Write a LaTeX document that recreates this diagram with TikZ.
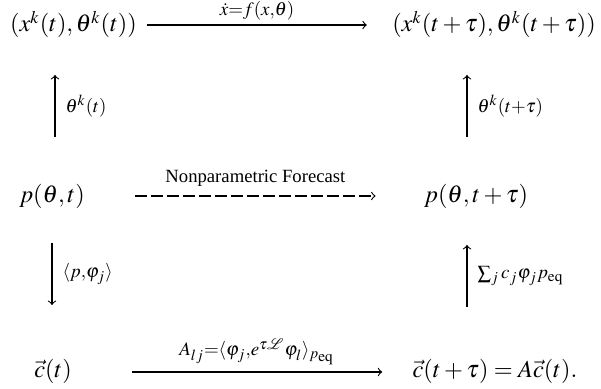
\documentclass[tikz,border=0pt]{standalone}
\usepackage{amsmath}
\usepackage{mathptmx}
\usepackage{fontspec}
\setmainfont{Liberation Serif}
\usetikzlibrary{calc}
\tikzset{
  obj/.style={inner sep=0pt, anchor=base, font=\fontsize{10.95}{13.6}\selectfont},
  lbl/.style={inner sep=0pt, font=\fontsize{11.5}{14}\selectfont},
  arr/.style={->, line width=0.5pt},
  darr/.style={->, line width=0.5pt, dash pattern=on 5.3pt off 1.9pt},
}
\begin{document}
\begin{tikzpicture}[x=0.45pt, y=-0.45pt]
\useasboundingbox (0,0) rectangle (601,389);
% objects
\node[obj] (xl) at (73.5,32) {$(x^k(t),\theta^k(t))$};
\node[obj] (xr) at (494,32) {$(x^k(t+\tau),\theta^k(t+\tau))$};
\node[obj] (pl) at (52,203) {$p(\theta,t)$};
\node[obj] (pr) at (476,203) {$p(\theta,t+\tau)$};
\node[obj] (cl) at (53,378) {$\vec{c}(t)$};
\node[obj] (cr) at (495,378) {$\vec{c}(t+\tau)=A\vec{c}(t).$};
% row coordinates
\coordinate (r1) at (0,25);
\coordinate (r2) at (0,196);
\coordinate (r3) at (0,372);
% horizontal arrows
\draw[arr] ($(xl.east |- r1)+(10,0)$) -- ($(xr.west |- r1)+(-25,0)$)
  node[lbl, midway, anchor=base, yshift=4.4pt] (l1) {$\scriptstyle \dot{x}=f(x,\theta)$};
\draw[darr] ($(pl.east |- r2)+(50,0)$) -- ($(pr.west |- r2)+(-48,0)$)
  node[lbl, midway, anchor=base, yshift=6pt, font=\fontsize{8.4}{10}\selectfont] (l2) {Nonparametric Forecast};
\draw[arr] ($(cl.east |- r3)+(60,0)$) -- ($(cr.west |- r3)+(-30,0)$)
  node[lbl, midway, anchor=base, yshift=7.2pt] (l3) {$\scriptstyle A_{lj}=\langle\varphi_j,e^{\tau\mathcal{L}}\varphi_l\rangle_{p_{\mathrm{eq}}}$};
% vertical arrows
\draw[arr] ($(pl.base)+(3,-66)$) -- ++(0,-62)
  node[lbl, midway, anchor=west, xshift=4.5pt] (l4) {$\scriptstyle \theta^k(t)$};
\draw[arr] ($(pr.base)+(-9,-66)$) -- ++(0,-62)
  node[lbl, midway, anchor=west, xshift=4.5pt] (l5) {$\scriptstyle \theta^k(t+\tau)$};
\draw[arr] ($(pl.base)+(0,40)$) -- ++(0,62)
  node[lbl, midway, anchor=west, xshift=4.5pt] (l6) {$\scriptstyle \langle p,\varphi_j\rangle$};
\draw[arr] ($(cr.base)+(-28,-71)$) -- ++(0,-62)
  node[lbl, midway, anchor=west, xshift=4.5pt] (l7) {$\scriptstyle \sum_j c_j\varphi_j p_{\mathrm{eq}}$};
\end{tikzpicture}
\end{document}
